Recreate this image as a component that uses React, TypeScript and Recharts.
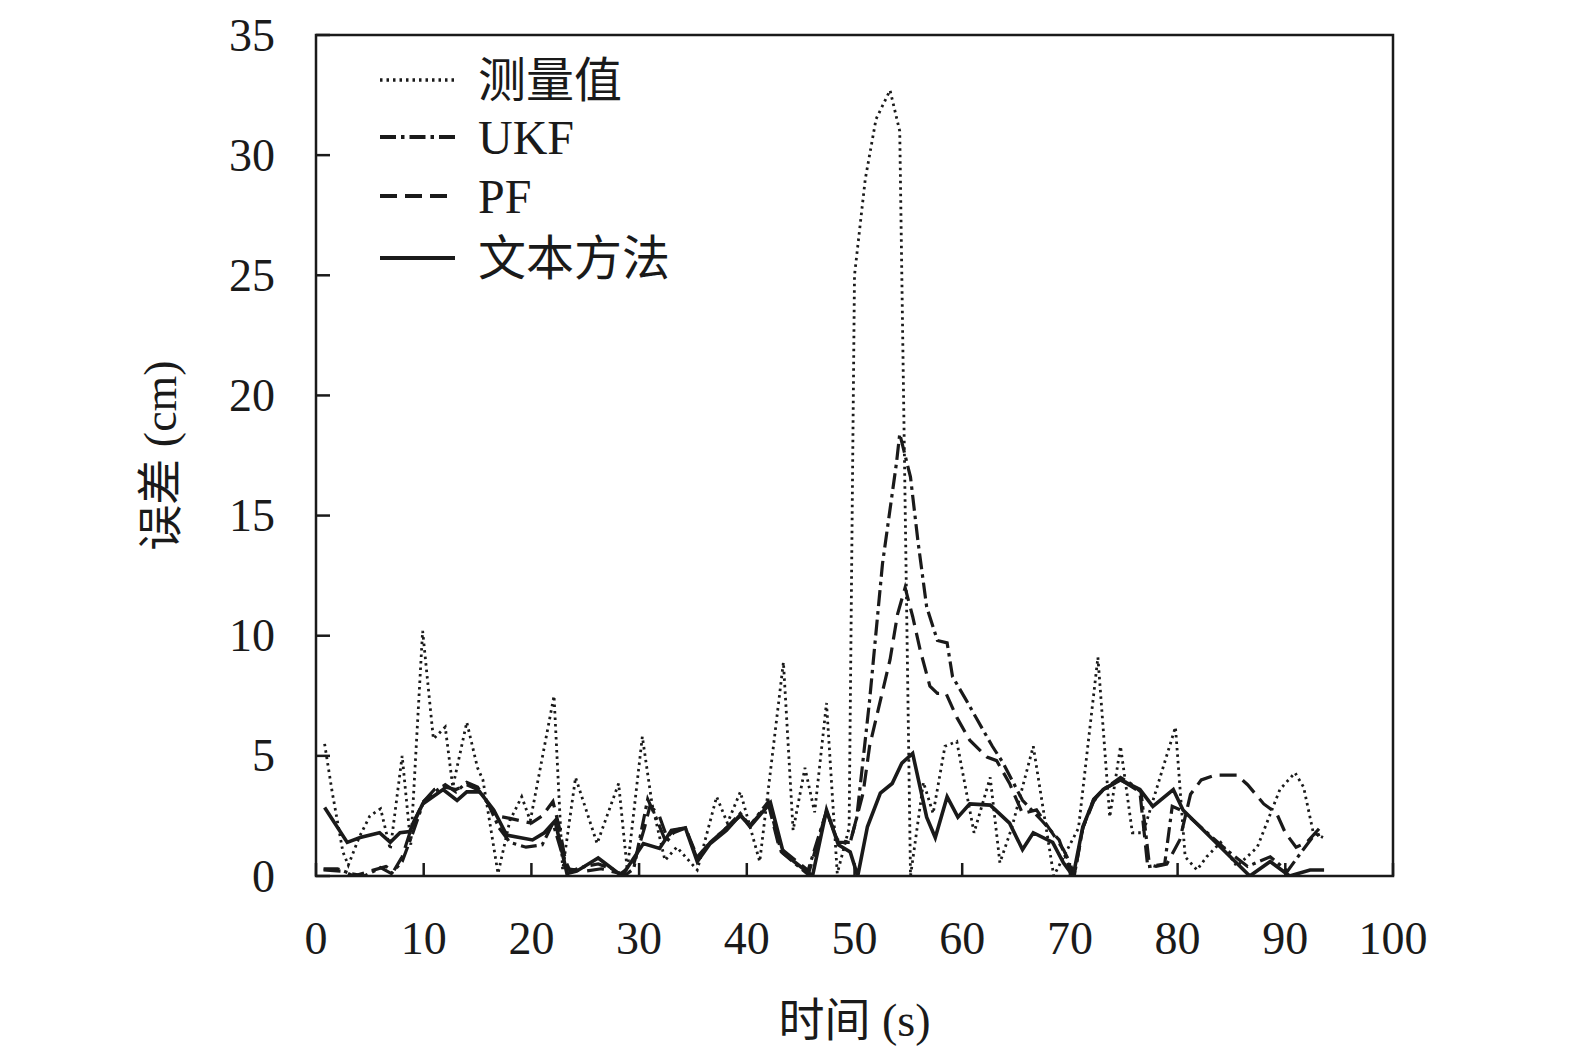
import React from 'react';
import { LineChart, Line, XAxis, YAxis, ReferenceArea } from 'recharts';

// 测量值 (dotted)
const measuredTime = [0.8, 1.5, 2.5, 3.0, 4.0, 5.0, 6.0, 6.9, 8.0, 8.8, 9.9, 10.9, 12.0, 12.7, 14.0, 15.0, 15.5, 16.9, 18.0, 19.1, 19.9, 22.1, 22.9, 24.1, 26.1, 28.1, 28.9, 30.3, 31.2, 32.4, 33.5, 35.4, 37.2, 38.2, 39.4, 41.2, 43.4, 44.3, 45.4, 46.3, 47.4, 48.4, 49.5, 50.0, 51.0, 52.0, 53.3, 54.2, 55.2, 56.4, 57.3, 58.4, 59.5, 61.1, 62.6, 63.5, 64.6, 66.6, 68.5, 70.8, 72.6, 73.7, 74.7, 75.8, 76.8, 79.8, 80.7, 81.8, 82.7, 84.0, 85.5, 87.4, 89.5, 90.9, 91.7, 92.6, 93.5];
const measuredErr = [5.5, 3.5, 1.0, 0.45, 1.6, 2.5, 2.8, 1.1, 5.0, 1.3, 10.2, 5.7, 6.2, 3.7, 6.4, 4.5, 4.0, 0.1, 2.3, 3.3, 2.3, 7.5, 0.25, 4.1, 1.35, 3.85, 0.25, 5.8, 3.0, 0.65, 1.2, 0.25, 3.3, 2.2, 3.5, 0.6, 8.9, 1.9, 4.5, 2.65, 7.2, 0.1, 2.0, 25.0, 29.0, 31.5, 32.7, 31.0, 0.0, 3.9, 2.6, 5.4, 5.6, 1.8, 4.1, 0.55, 2.0, 5.4, 0.0, 2.0, 9.1, 2.45, 5.4, 1.8, 1.8, 6.2, 0.8, 0.25, 0.8, 1.4, 0.4, 1.2, 3.6, 4.3, 3.7, 1.8, 1.6];

// UKF (dash-dot)
const ukfTime = [0.7, 2.0, 3.2, 4.5, 6.0, 7.0, 8.0, 9.0, 10.0, 11.0, 12.0, 13.0, 14.0, 15.0, 16.0, 17.0, 18.0, 19.5, 21.0, 22.0, 22.8, 23.6, 25.0, 26.2, 27.5, 28.6, 29.5, 30.8, 31.6, 32.5, 33.2, 34.3, 35.4, 36.6, 38.1, 39.4, 40.3, 42.0, 43.2, 45.6, 47.4, 48.4, 49.6, 50.2, 51.4, 52.6, 53.9, 54.2, 55.2, 55.9, 56.7, 57.7, 58.6, 59.1, 60.4, 61.4, 62.8, 63.8, 65.6, 67.4, 69.0, 70.0, 70.4, 71.2, 72.2, 73.1, 74.7, 75.8, 76.6, 77.4, 78.8, 79.5, 80.5, 82.5, 84.5, 86.5, 88.6, 90.2, 91.5, 92.5, 93.5];
const ukfErr = [0.3, 0.3, 0.1, 0.0, 0.35, 0.1, 0.6, 1.8, 3.1, 3.5, 3.8, 3.5, 3.9, 3.7, 3.0, 2.0, 1.4, 1.2, 1.3, 2.2, 1.0, 0.2, 0.4, 0.5, 0.3, 0.0, 0.3, 3.2, 2.4, 1.4, 1.8, 2.0, 0.7, 1.4, 2.0, 2.6, 2.1, 3.1, 1.0, 0.1, 2.7, 1.5, 1.4, 2.4, 7.3, 13.0, 17.2, 18.4, 16.6, 13.9, 11.2, 9.8, 9.7, 8.3, 7.3, 6.5, 5.4, 4.7, 3.15, 2.3, 1.5, 0.3, 0.0, 2.0, 3.2, 3.6, 4.1, 3.8, 3.5, 0.4, 0.5, 2.9, 2.7, 1.9, 1.1, 0.4, 0.8, 0.2, 1.0, 1.6, 1.8];

// PF (dashed)
const pfTime = [0.7, 2.5, 3.5, 5.0, 6.5, 7.2, 8.0, 9.0, 10.0, 11.0, 12.0, 13.0, 14.0, 15.0, 16.0, 16.8, 18.0, 19.0, 20.0, 21.0, 22.0, 22.6, 23.3, 25.0, 26.5, 28.3, 29.5, 30.5, 31.0, 31.8, 32.6, 33.2, 34.3, 35.4, 36.6, 38.1, 39.4, 40.3, 42.0, 43.0, 45.8, 47.4, 48.5, 49.6, 50.8, 51.4, 52.4, 53.3, 54.0, 54.7, 55.4, 56.1, 57.0, 57.7, 58.5, 59.5, 60.7, 62.3, 63.2, 64.4, 65.6, 66.9, 68.2, 69.4, 70.0, 70.4, 71.2, 72.2, 73.1, 74.7, 75.8, 76.5, 77.2, 78.0, 79.0, 80.2, 81.2, 82.2, 83.5, 85.5, 86.5, 88.0, 89.2, 90.0, 91.0, 92.0, 93.2];
const pfErr = [0.25, 0.2, 0.0, 0.2, 0.4, 0.2, 0.8, 2.2, 3.1, 3.6, 3.7, 3.6, 3.8, 3.6, 3.0, 2.5, 2.4, 2.3, 2.2, 2.5, 3.1, 2.0, 0.3, 0.2, 0.3, 0.1, 0.5, 2.0, 2.9, 2.6, 1.6, 1.9, 2.0, 0.8, 1.4, 2.0, 2.5, 2.1, 3.0, 1.2, 0.2, 2.7, 1.4, 1.4, 3.45, 5.4, 7.3, 9.0, 10.9, 12.0, 10.8, 9.4, 7.9, 7.6, 7.6, 6.6, 5.65, 4.95, 4.8, 3.85, 2.6, 2.75, 1.9, 1.1, 0.55, 0.0, 2.0, 3.1, 3.6, 4.0, 3.7, 3.5, 0.5, 0.4, 0.5, 1.5, 3.4, 4.0, 4.2, 4.2, 3.8, 3.0, 2.6, 1.8, 1.2, 1.4, 2.0];

// 文本方法 (solid)
const oursTime = [0.8, 2.9, 4.1, 5.9, 6.9, 7.8, 8.7, 9.9, 11.8, 13.1, 14.0, 15.2, 16.5, 17.7, 20.1, 21.2, 22.2, 23.3, 24.2, 26.2, 28.4, 30.4, 31.9, 33.0, 34.3, 35.4, 36.6, 38.1, 39.4, 40.3, 42.2, 43.4, 46.1, 47.4, 48.5, 49.6, 50.3, 51.2, 52.4, 53.5, 54.4, 55.4, 56.7, 57.5, 58.6, 59.6, 60.7, 62.6, 64.4, 65.6, 66.6, 68.4, 69.4, 70.3, 71.2, 72.2, 73.1, 74.7, 76.5, 77.7, 79.6, 80.5, 86.7, 88.6, 90.4, 92.3, 93.6];
const oursErr = [2.85, 1.4, 1.6, 1.8, 1.4, 1.8, 1.85, 3.0, 3.6, 3.15, 3.5, 3.5, 2.75, 1.7, 1.5, 1.8, 2.3, 0.1, 0.2, 0.75, 0.0, 1.35, 1.15, 1.9, 2.0, 0.6, 1.35, 1.9, 2.55, 2.05, 3.05, 0.95, 0.0, 2.75, 1.3, 1.0, 0.0, 2.05, 3.45, 3.85, 4.7, 5.1, 2.45, 1.6, 3.3, 2.45, 3.0, 2.95, 2.2, 1.1, 1.8, 1.4, 0.55, 0.0, 2.05, 3.15, 3.6, 4.0, 3.6, 2.9, 3.6, 2.75, 0.0, 0.6, 0.0, 0.25, 0.25];

const xTicks = [0, 10, 20, 30, 40, 50, 60, 70, 80, 90, 100];
const yTicks = [0, 5, 10, 15, 20, 25, 30, 35];

const INK = '#1a1a1a';
const SERIF = '"Liberation Serif", "Times New Roman", "Noto Sans CJK SC", serif';

const zip = (ts: number[], vs: number[]) => ts.map((t, i) => ({ t, v: vs[i] }));

const series = [
  { name: '测量值', data: zip(measuredTime, measuredErr), dash: '2.5 4', width: 2.8 },
  { name: 'UKF', data: zip(ukfTime, ukfErr), dash: '16 5 3.5 5', width: 3.2 },
  { name: 'PF', data: zip(pfTime, pfErr), dash: '17 8', width: 3.2 },
  { name: '文本方法', data: zip(oursTime, oursErr), dash: undefined, width: 3.6 },
];

function XTick(props: any) {
  const { x, y, payload } = props;
  return (
    <g>
      <line x1={x} x2={x} y1={y} y2={y - 13} stroke={INK} strokeWidth={2.5} />
      <text x={x} y={y + 62} textAnchor="middle" dominantBaseline="central" fontSize={46} fontFamily={SERIF} fill={INK}>
        {payload.value}
      </text>
    </g>
  );
}

function YTick(props: any) {
  const { x, y, payload } = props;
  return (
    <g>
      <line x1={x} x2={x + 14} y1={y} y2={y} stroke={INK} strokeWidth={2.5} />
      <text x={x - 41} y={y} textAnchor="end" dominantBaseline="central" fontSize={46} fontFamily={SERIF} fill={INK}>
        {payload.value}
      </text>
    </g>
  );
}

function ChartLegend() {
  const rows = [35, 92, 151, 213];
  return (
    <svg width={340} height={250} style={{ position: 'absolute', left: 370, top: 45 }}>
      {series.map((s, i) => (
        <g key={s.name}>
          <line x1={10} x2={85} y1={rows[i]} y2={rows[i]} stroke={INK} strokeWidth={s.width + 0.6} strokeDasharray={s.dash} />
          <text x={108} y={rows[i]} dominantBaseline="central" fontSize={48} fontFamily={SERIF} fill={INK}>
            {s.name}
          </text>
        </g>
      ))}
    </svg>
  );
}

export default function App() {
  return (
    <div style={{ position: 'relative', width: 1575, height: 1061, background: '#fff', overflow: 'hidden' }}>
      <style>{'html,body{margin:0;padding:0;overflow:hidden}'}</style>
      <LineChart width={1575} height={1061} margin={{ top: 35, right: 182, bottom: 0, left: 0 }}>
        <XAxis
          type="number"
          dataKey="t"
          domain={[0, 100]}
          ticks={xTicks}
          height={185}
          axisLine={false}
          tickLine={false}
          tickSize={0}
          tickMargin={0}
          tick={<XTick />}
          allowDataOverflow
          label={{
            content: (p: any) => (
              <text x={p.viewBox.x + p.viewBox.width / 2} y={p.viewBox.y + 144} textAnchor="middle" dominantBaseline="central" fontSize={46} fontFamily={SERIF} fill={INK}>
                时间 (s)
              </text>
            ),
          }}
        />
        <YAxis
          type="number"
          domain={[0, 35]}
          ticks={yTicks}
          width={316}
          axisLine={false}
          tickLine={false}
          tickSize={0}
          tickMargin={0}
          tick={<YTick />}
          allowDataOverflow
          label={{
            content: (p: any) => {
              const cx = p.viewBox.x + 160;
              const cy = p.viewBox.y + p.viewBox.height / 2;
              return (
                <text x={cx} y={cy} transform={`rotate(-90 ${cx} ${cy})`} textAnchor="middle" dominantBaseline="central" fontSize={46} fontFamily={SERIF} fill={INK}>
                  误差 (cm)
                </text>
              );
            },
          }}
        />
        {series.map((s) => (
          <Line
            key={s.name}
            data={s.data}
            dataKey="v"
            name={s.name}
            type="linear"
            stroke={INK}
            strokeWidth={s.width}
            strokeDasharray={s.dash}
            dot={false}
            activeDot={false}
            isAnimationActive={false}
          />
        ))}
        <ReferenceArea x1={0} x2={100} y1={0} y2={35} fill="none" stroke={INK} strokeWidth={2.5} ifOverflow="visible" />
      </LineChart>
      <ChartLegend />
    </div>
  );
}
